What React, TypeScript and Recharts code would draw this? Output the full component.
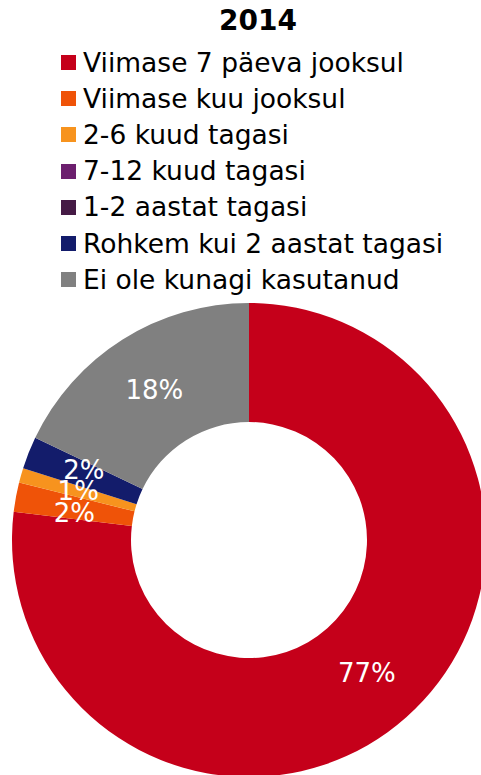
import { PieChart, Pie, Cell } from 'recharts'

const title = '2014'

const categories = [
  'Viimase 7 päeva jooksul',
  'Viimase kuu jooksul',
  '2-6 kuud tagasi',
  '7-12 kuud tagasi',
  '1-2 aastat tagasi',
  'Rohkem kui 2 aastat tagasi',
  'Ei ole kunagi kasutanud',
]

const shares = [76.9, 2.0, 1.0, 0, 0, 2.2, 17.9]

const colors = ['#c5001a', '#ef5308', '#f7931e', '#6c1f6e', '#451a45', '#131c6b', '#808080']

const data = categories.map((name, i) => ({ name, value: shares[i] }))

const FONT = '"DejaVu Sans", Verdana, sans-serif'
const RAD = Math.PI / 180
const INNER = 118
const OUTER = 237
const MIN_GAP = 21.5

// small slices sit close together, so push their labels apart vertically
// (roughly what the spreadsheet did with the 2% / 1% / 2% cluster)
function labelNudges(values: number[]) {
  const total = values.reduce((a, b) => a + b, 0)
  const rMid = (INNER + OUTER) / 2
  let acc = 0
  const pts: { i: number; y: number }[] = []
  values.forEach((v, i) => {
    const mid = (acc + v / 2) / total
    acc += v
    if (v >= 0.5) pts.push({ i, y: -Math.cos(2 * Math.PI * mid) * rMid })
  })
  pts.sort((a, b) => a.y - b.y)
  const nudge: Record<number, number> = {}
  let k = 0
  while (k < pts.length) {
    let j = k
    while (j + 1 < pts.length && pts[j + 1].y - pts[j].y < MIN_GAP) j++
    const group = pts.slice(k, j + 1)
    const mean = group.reduce((s, p) => s + p.y, 0) / group.length
    group.forEach((p, n) => {
      const target = group.length > 1 ? mean + (n - (group.length - 1) / 2) * MIN_GAP : p.y
      nudge[p.i] = target - p.y
    })
    k = j + 1
  }
  return nudge
}

const nudges = labelNudges(shares)

function renderLabel(props: any) {
  const { cx, cy, midAngle, innerRadius, outerRadius, value, index } = props
  if (value < 0.5) return null
  const r = (innerRadius + outerRadius) / 2
  const x = cx + r * Math.cos(-midAngle * RAD)
  const y = cy + r * Math.sin(-midAngle * RAD) + (nudges[index] || 0)
  return (
    <text
      x={x}
      y={y}
      fill="#ffffff"
      textAnchor="middle"
      dominantBaseline="central"
      fontSize={26}
      fontFamily={FONT}
    >
      {`${Math.round(value)}%`}
    </text>
  )
}

export default function App() {
  return (
    <div style={{ position: 'absolute', left: 0, top: 0, width: 481, height: 775, overflow: 'hidden', background: '#fff', fontFamily: FONT }}>
      <div
        style={{
          position: 'absolute',
          left: 258,
          top: 7,
          transform: 'translateX(-50%)',
          fontSize: 28,
          lineHeight: '28px',
          fontWeight: 'bold',
          color: '#000',
          whiteSpace: 'nowrap',
        }}
      >
        {title}
      </div>
      <div style={{ position: 'absolute', left: 61, top: 44.5 }}>
        {categories.map((c, i) => (
          <div key={c} style={{ height: 36.2, display: 'flex', alignItems: 'center', whiteSpace: 'nowrap' }}>
            <span style={{ width: 15, height: 15, background: colors[i], display: 'inline-block', marginRight: 7 }} />
            <span style={{ fontSize: 26.5, lineHeight: '36px', color: '#000' }}>{c}</span>
          </div>
        ))}
      </div>
      <div style={{ position: 'absolute', left: 0, top: 0 }}>
        <PieChart width={481} height={775} margin={{ top: 0, right: 0, bottom: 0, left: 0 }}>
          <Pie
            data={data}
            dataKey="value"
            nameKey="name"
            cx={249}
            cy={540}
            innerRadius={INNER}
            outerRadius={OUTER}
            startAngle={90}
            endAngle={-270}
            stroke="none"
            label={renderLabel}
            labelLine={false}
            isAnimationActive={false}
          >
            {data.map((d, i) => (
              <Cell key={d.name} fill={colors[i]} />
            ))}
          </Pie>
        </PieChart>
      </div>
    </div>
  )
}
